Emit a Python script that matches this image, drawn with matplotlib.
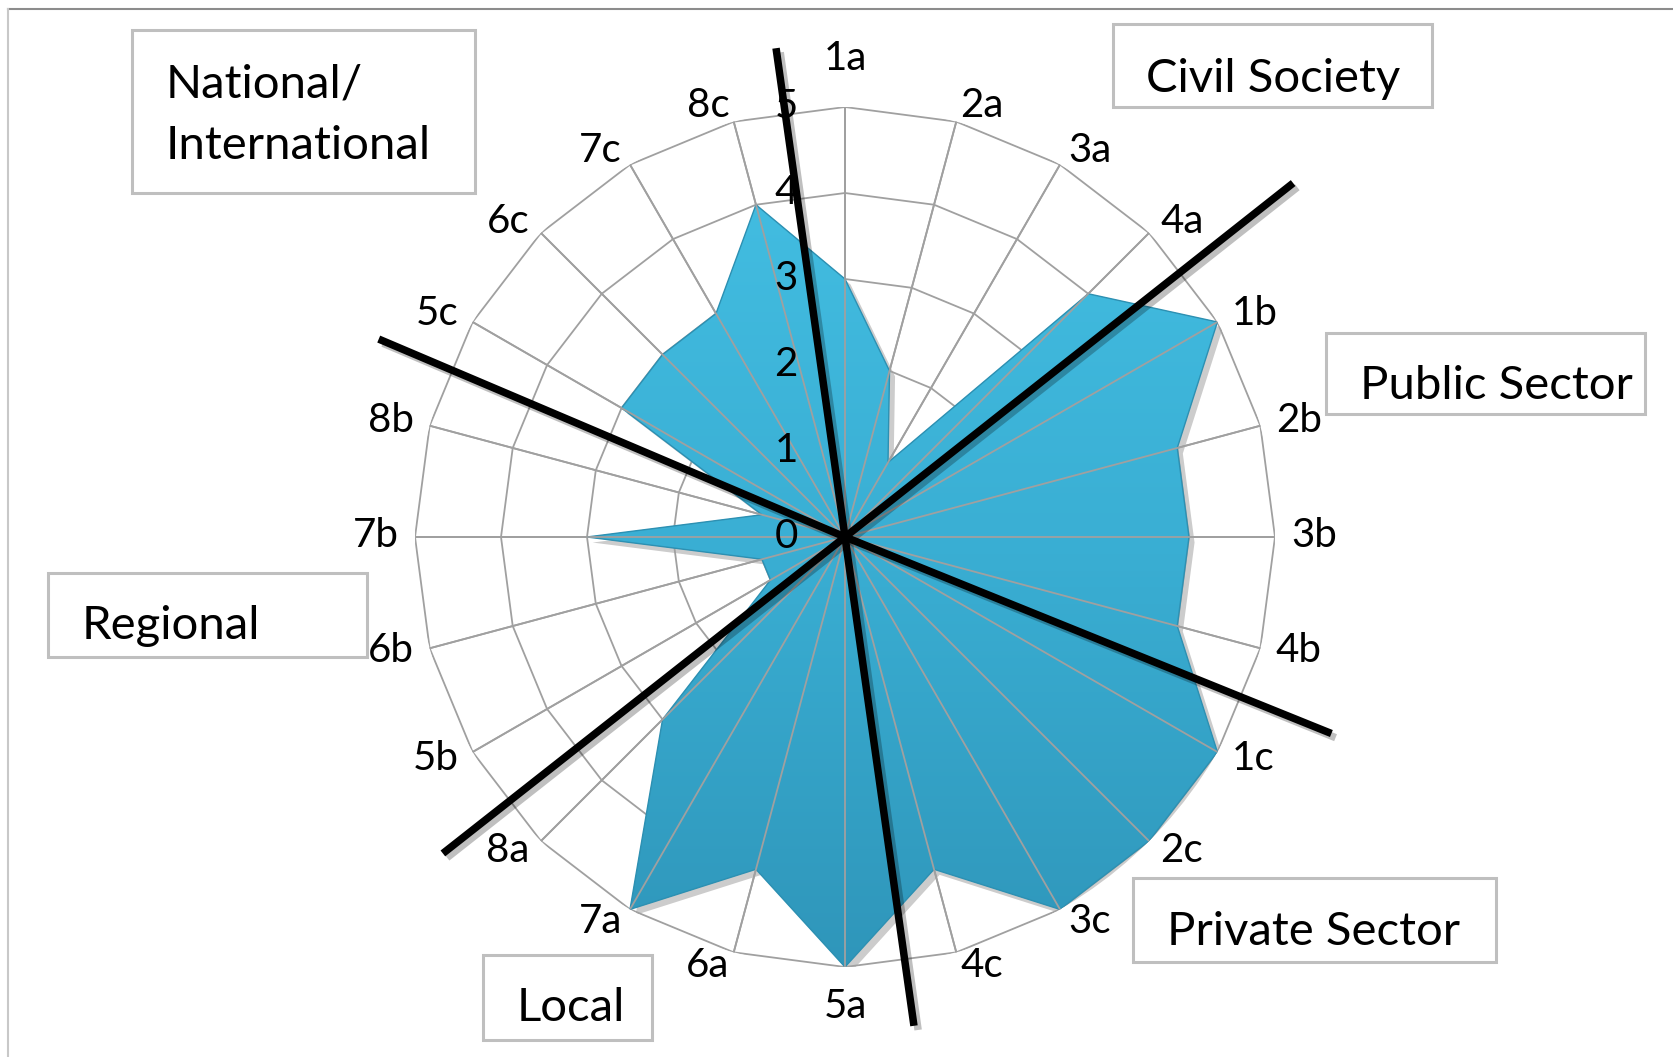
import numpy as np
import matplotlib
matplotlib.use('Agg')
import matplotlib.pyplot as plt
import matplotlib.patheffects as pe
from matplotlib.patches import Rectangle
from matplotlib.lines import Line2D
from matplotlib.colors import LinearSegmentedColormap
from matplotlib.transforms import ScaledTranslation

plt.rcParams['font.family'] = ['Lato', 'DejaVu Sans']

# data
categories = ['1a', '2a', '3a', '4a', '1b', '2b', '3b', '4b', '1c', '2c', '3c', '4c',
              '5a', '6a', '7a', '8a', '5b', '6b', '7b', '8b', '5c', '6c', '7c', '8c']
scores = [3, 2, 1, 4, 5, 4, 4, 4, 5, 5, 5, 4,
          5, 4, 5, 3, 1, 1, 3, 1, 3, 3, 3, 4]
levels = [0, 1, 2, 3, 4, 5]

# sector dividers (angle in degrees clockwise from top, length in score units)
divider_ends = [((351.97, 5.74), (171.97, 5.74)),
                ((293.0, 5.89), (112.0, 6.10)),
                ((231.8, 5.95), (51.7, 6.64))]

sector_names = ['National/\nInternational', 'Civil Society', 'Public Sector',
                'Regional', 'Private Sector', 'Local']

W, H = 1673, 1057
PT = 72 / 100  # points per pixel
fig = plt.figure(figsize=(W / 100, H / 100), dpi=100)

cx, cy, R = 845, 537, 430
rect = [(cx - R) / W, (H - cy - R) / H, 2 * R / W, 2 * R / H]

theta = np.deg2rad(np.arange(len(categories)) * 360 / len(categories))
th_closed = np.append(theta, theta[0])
val_closed = np.append(scores, scores[0])

grid_col = '#A0A0A0'

# bottom polar axes: web rings + category labels + filled shape
ax = fig.add_axes(rect, projection='polar', zorder=1)
ax.set_theta_zero_location('N')
ax.set_theta_direction(-1)
ax.set_ylim(0, 5)
ax.set_axis_off()

for lvl in levels[1:]:
    ax.plot(th_closed, [lvl] * len(th_closed), color=grid_col, lw=1.3)
for t in theta:
    ax.plot([t, t], [0, 5], color=grid_col, lw=1.3)

# category labels, placed beside the outer ring like the spreadsheet does
for t, lab in zip(theta, categories):
    s, c = np.sin(t), np.cos(t)
    if abs(s) < 0.01:
        ha = 'center'
        dx = 0
        dy = 37.5 if c > 0 else -50.5
    else:
        ha = 'left' if s > 0 else 'right'
        dx = np.sign(s) * 16 * abs(s)
        dy = 15 * c - 10.3
    ax.annotate(lab, xy=(t, 5), xytext=(dx * PT, dy * PT), textcoords='offset points',
                ha=ha, va='baseline', fontsize=29, color='black')

poly = ax.fill(th_closed, val_closed, facecolor='#37AACF', edgecolor='none')[0]
poly.set_path_effects([pe.SimplePatchShadow(offset=(4, -4), shadow_rgbFace='black', alpha=0.2),
                       pe.Normal()])

# gradient for the filled shape
gax = fig.add_axes(rect, zorder=2)
gax.set_axis_off()
grad = np.linspace(0, 1, 256)[:, None]
cmap = LinearSegmentedColormap.from_list('blu', ['#44C0E4', '#3AAFD4', '#2F96BA'])
im = gax.imshow(grad, cmap=cmap, aspect='auto', extent=(0, 1, 0, 1), origin='upper')
gax.set_xlim(0, 1)
gax.set_ylim(0, 1)
im.set_clip_path(poly)

# top polar axes: spokes over fill, value labels, dividers
ax2 = fig.add_axes(rect, projection='polar', zorder=3)
ax2.set_theta_zero_location('N')
ax2.set_theta_direction(-1)
ax2.set_ylim(0, 5)
ax2.set_axis_off()
ax2.patch.set_alpha(0)

ax2.plot(th_closed, val_closed, color='#2D90B2', lw=1.0)
for t in theta:
    ax2.plot([t, t], [0, 5], color=grid_col, lw=1.3)

shift = ax2.transData + ScaledTranslation(-0.59, 0, fig.dpi_scale_trans)
for lvl in levels:
    ax2.text(0, lvl, str(lvl), transform=shift, ha='center', va='center', fontsize=29)

for (a1, r1), (a2, r2) in divider_ends:
    ax2.plot([np.deg2rad(a1), 0, np.deg2rad(a2)], [r1, 0, r2], color='black', lw=5.4,
             clip_on=False, solid_capstyle='butt',
             path_effects=[pe.SimpleLineShadow(offset=(3, -3), alpha=0.25), pe.Normal()])

# sector boxes (pixel coords: x0, y0, x1, y1, text x, first baseline)
boxes = [(132, 30, 475, 193, 166, 97),
         (1113, 24, 1432, 107, 1146, 92),
         (1326, 333, 1645, 414, 1360, 399),
         (48, 573, 367, 657, 82, 639),
         (1133, 878, 1496, 962, 1167, 945),
         (483, 955, 652, 1040, 517, 1021)]

for name, (x0, y0, x1, y1, tx, by) in zip(sector_names, boxes):
    fig.patches.append(Rectangle((x0 / W, 1 - y1 / H), (x1 - x0) / W, (y1 - y0) / H,
                                 transform=fig.transFigure, fill=False,
                                 edgecolor='#BFBFBF', lw=2.2, zorder=4))
    for i, line in enumerate(name.split('\n')):
        fig.text(tx / W, 1 - (by + 62 * i) / H, line, ha='left', va='baseline',
                 fontsize=34, zorder=5)

# chart border
fig.add_artist(Line2D([8 / W, 1], [1 - 9 / H, 1 - 9 / H], transform=fig.transFigure,
                      color='#8C8C8C', lw=1.5))
fig.add_artist(Line2D([8 / W, 8 / W], [0, 1 - 9 / H], transform=fig.transFigure,
                      color='#C8C8C8', lw=1.5))

plt.savefig('out.png', dpi=100)
